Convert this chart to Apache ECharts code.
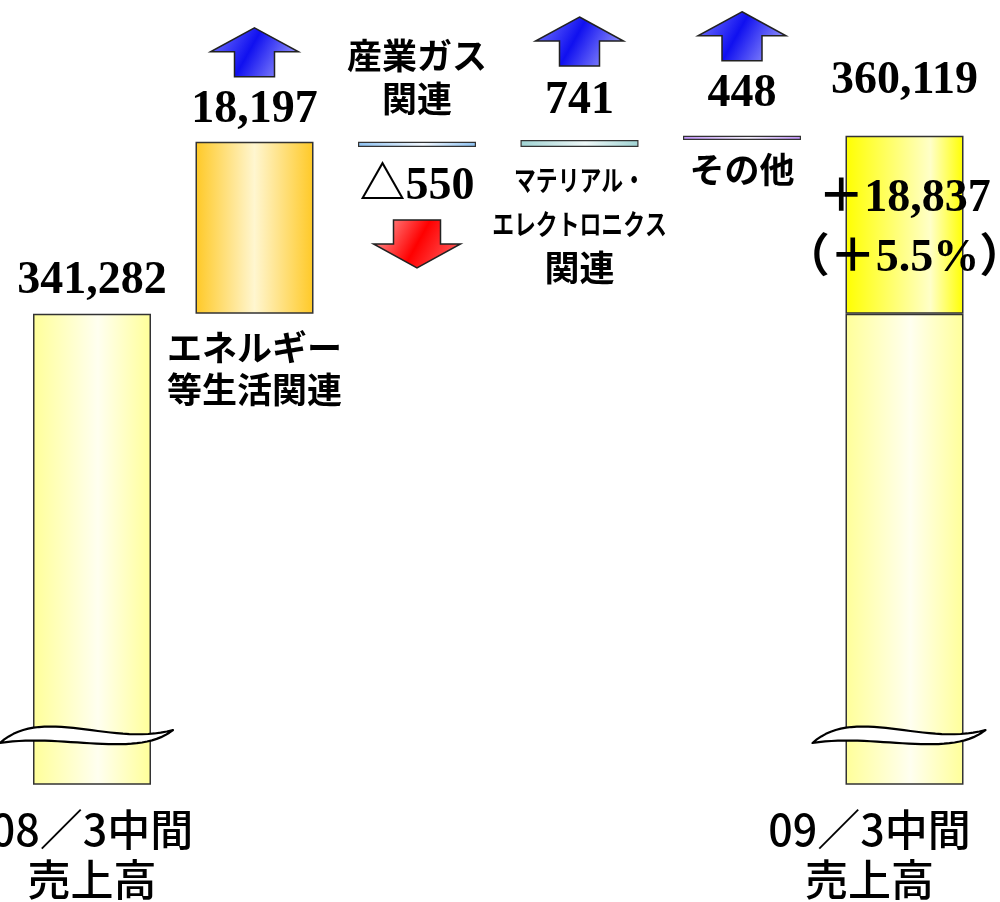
<!DOCTYPE html>
<html>
<head>
<meta charset="utf-8">
<script src="https://cdn.jsdelivr.net/npm/echarts@6/dist/echarts.min.js"></script>
<style>
html,body{margin:0;padding:0;background:#fff;}
#chart{width:1000px;height:902px;}
</style>
</head>
<body>
<div id="chart"></div>
<script>
// ---- data ----
const categories = ['08／3中間\n売上高', 'エネルギー\n等生活関連', '産業ガス\n関連', 'マテリアル・\nエレクトロニクス\n関連', 'その他', '09／3中間\n売上高'];
const startTotal = 341282;
const changes = [18197, -550, 741, 448];
const endTotal = 360119;
const valueLabels = ['341,282', '18,197', '△550', '741', '448', '360,119'];
const growthLabels = ['＋18,837', '（＋5.5%）'];

const yMin = 291500, yMax = 362000;

// waterfall ranges
const barLow = [], barHigh = [];
barLow.push(yMin); barHigh.push(startTotal);
let run = startTotal;
changes.forEach(c => { const nx = run + c; barLow.push(Math.min(run, nx)); barHigh.push(Math.max(run, nx)); run = nx; });
barLow.push(yMin); barHigh.push(endTotal);

const baseData = categories.map((c, i) => (i === 0 || i === categories.length - 1) ? '-' : barLow[i]);
const amountData = [startTotal].concat(changes.map(Math.abs)).concat([startTotal]);
const growthData = categories.map((c, i) => i === categories.length - 1 ? endTotal - startTotal : '-');

const G = echarts.graphic.LinearGradient;
function hgrad(edge, mid, pos) {
  return new G(0, 0, 1, 0, [{offset: 0, color: edge}, {offset: pos, color: mid}, {offset: 1, color: edge}]);
}
const border = {borderColor: '#333', borderWidth: 1.5};
const thinBorder = {borderColor: '#333', borderWidth: 1.2};
const amountStyles = [
  hgrad('#FFFF99', '#FFFFF0', 0.55),
  hgrad('#FFC926', '#FFF6D0', 0.5),
  hgrad('#8EC2F2', '#F2F8FF', 0.55),
  hgrad('#A0D4D4', '#EEF8F8', 0.55),
  hgrad('#C090FA', '#F6F0FF', 0.55),
  hgrad('#FFFF99', '#FFFFF0', 0.55)
];

const SERIF = "'Liberation Serif','Times New Roman','Noto Sans CJK JP',serif";
const SANS = "'Noto Sans CJK JP',sans-serif";

function T(text, x, y, size, family, weight, sx) {
  return {type: 'text', x: x, y: y, scaleX: sx || 1, z2: 20,
    style: {text: text, x: 0, y: 0, fill: '#000', fontSize: size, fontFamily: family, fontWeight: weight,
      align: 'center', verticalAlign: 'middle'}};
}
function arrowUp(x, t) {
  return {type: 'polygon', z2: 15, shape: {points: [[x, t], [x + 44, t + 24], [x + 20, t + 24], [x + 20, t + 49], [x - 20, t + 49], [x - 20, t + 24], [x - 44, t + 24]]},
    style: {fill: new G(0, 0, 1, 1, [{offset: 0, color: '#8080FF'}, {offset: 0.45, color: '#1010F0'}, {offset: 1, color: '#B8B8FF'}]), stroke: '#222', lineWidth: 1.5}};
}
function arrowDown(x, s) {
  return {type: 'polygon', z2: 15, shape: {points: [[x - 23.5, s], [x + 23.5, s], [x + 23.5, s + 24], [x + 43.5, s + 24], [x, s + 48], [x - 43.5, s + 24], [x - 23.5, s + 24]]},
    style: {fill: new G(0, 0, 1, 1, [{offset: 0, color: '#FFB0B0'}, {offset: 0.5, color: '#FF0000'}, {offset: 1, color: '#FF7070'}]), stroke: '#222', lineWidth: 1.5}};
}
function bez(p0, p1, p2, p3, n) {
  const pts = [];
  for (let k = 0; k <= n; k++) {
    const t = k / n, u = 1 - t;
    pts.push([u*u*u*p0[0] + 3*u*u*t*p1[0] + 3*u*t*t*p2[0] + t*t*t*p3[0],
              u*u*u*p0[1] + 3*u*u*t*p1[1] + 3*u*t*t*p2[1] + t*t*t*p3[1]]);
  }
  return pts;
}
function wave(cx, y0) {
  const L = [cx - 92, y0 + 8], R = [cx + 81, y0 - 5];
  const top = bez(L, [cx - 50, y0 - 30], [cx + 20, y0 + 12], R, 30);
  const bot = bez(R, [cx + 45, y0 + 24], [cx - 30, y0 - 2], L, 30);
  return {type: 'polygon', z2: 18, shape: {points: top.concat(bot.slice(1))},
    style: {fill: '#fff', stroke: '#000', lineWidth: 2.2, lineJoin: 'round'}};
}

function renderItem(params, api) {
  const i = api.value(0);
  const hi = api.coord([i, api.value(1)]);
  const lo = api.coord([i, api.value(2)]);
  const cx = hi[0], ty = hi[1], by = lo[1];
  const gb = api.coord([i, yMin])[1];
  const lines = categories[i].split('\n');
  const ch = [];
  if (i === 0) {
    ch.push(T(valueLabels[0], cx, ty - 33, 46, SERIF, 'bold'));
    ch.push(T(lines[0], cx, gb + 46, 43, SANS, '500'));
    ch.push(T(lines[1], cx, gb + 96, 43, SANS, '500'));
    ch.push(wave(cx, gb - 49));
  } else if (i === 1) {
    ch.push(arrowUp(cx, ty - 114));
    ch.push(T(valueLabels[1], cx, ty - 32, 46, SERIF, 'bold'));
    ch.push(T(lines[0], cx, by + 34, 35, SANS, 'bold'));
    ch.push(T(lines[1], cx, by + 76, 35, SANS, 'bold'));
  } else if (i === 2) {
    ch.push(T(lines[0], cx, ty - 86, 35, SANS, 'bold'));
    ch.push(T(lines[1], cx, ty - 43, 35, SANS, 'bold'));
    ch.push(T(valueLabels[2], cx, by + 40, 46, SERIF, 'bold'));
    ch.push(arrowDown(cx, by + 73));
  } else if (i === 3) {
    ch.push(arrowUp(cx, ty - 123));
    ch.push(T(valueLabels[3], cx, ty - 39, 46, SERIF, 'bold'));
    ch.push(T(lines[0], cx, by + 33, 28, SANS, 'bold', 0.78));
    ch.push(T(lines[1], cx, by + 77, 28, SANS, 'bold', 0.78));
    ch.push(T(lines[2], cx, by + 121, 35, SANS, 'bold'));
  } else if (i === 4) {
    ch.push(arrowUp(cx, ty - 124));
    ch.push(T(valueLabels[4], cx, ty - 42, 46, SERIF, 'bold'));
    ch.push(T(lines[0], cx, by + 30, 35, SANS, 'bold'));
  } else if (i === 5) {
    ch.push(T(valueLabels[5], cx, ty - 55, 46, SERIF, 'bold'));
    ch.push(T(growthLabels[0], cx, ty + 63, 46, SERIF, 'bold'));
    ch.push(T(growthLabels[1], cx, ty + 123, 46, SERIF, 'bold'));
    ch.push(T(lines[0], cx - 35, gb + 46, 43, SANS, '500'));
    ch.push(T(lines[1], cx - 35, gb + 96, 43, SANS, '500'));
    ch.push(wave(cx, gb - 49));
  }
  return {type: 'group', children: ch};
}

const chart = echarts.init(document.getElementById('chart'), null, {renderer: 'canvas'});
chart.setOption({
  animation: false,
  backgroundColor: '#fff',
  grid: {left: 10.75, right: 14.25, top: 118, bottom: 118},
  xAxis: {type: 'category', data: categories, show: false, boundaryGap: true},
  yAxis: {type: 'value', min: yMin, max: yMax, show: false, splitLine: {show: false}},
  series: [
    {type: 'bar', stack: 'w', barWidth: 118, data: baseData, itemStyle: {color: 'transparent', borderWidth: 0}, silent: true},
    {type: 'bar', stack: 'w', barWidth: 118,
      data: amountData.map((v, i) => ({value: v, itemStyle: Object.assign({color: amountStyles[i]}, (i > 1 && i < 5) ? thinBorder : border)}))},
    {type: 'bar', stack: 'w', barWidth: 118,
      data: growthData.map(v => v === '-' ? '-' : ({value: v, itemStyle: Object.assign({color: hgrad('#FFFF00', '#FFFFC8', 0.72)}, border)}))},
    {type: 'custom', z: 10, renderItem: renderItem, clip: false,
      encode: {x: 0, y: 1},
      data: categories.map((c, i) => [i, barHigh[i], barLow[i]])}
  ]
});
</script>
</body>
</html>
